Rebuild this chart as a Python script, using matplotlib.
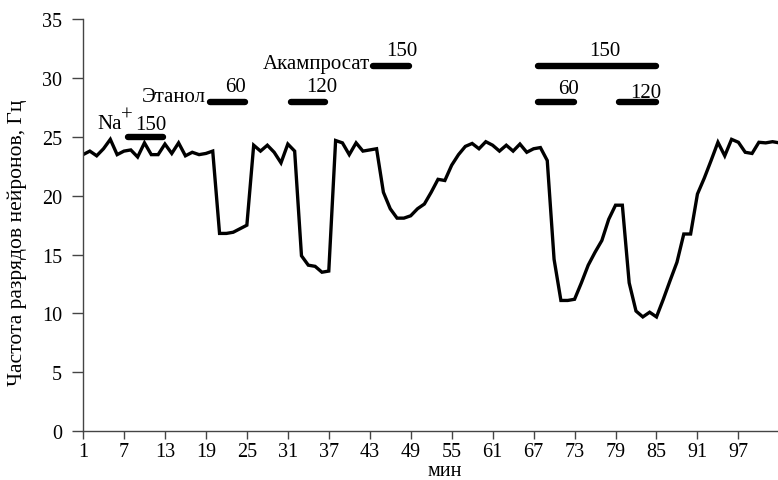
import matplotlib
matplotlib.use("Agg")
import matplotlib.pyplot as plt
import numpy as np

# Firing rate per minute
minutes = np.arange(1, 104)
rate = [
    23.5, 23.8, 23.4, 24.0, 24.8, 23.5, 23.8, 23.9, 23.3, 24.5,
    23.5, 23.5, 24.4, 23.6, 24.5, 23.4, 23.7, 23.5, 23.6, 23.8,
    16.8, 16.8, 16.9, 17.2, 17.5, 24.3, 23.8, 24.3, 23.7, 22.8,
    24.4, 23.8, 14.9, 14.1, 14.0, 13.5, 13.6, 24.7, 24.5, 23.5,
    24.5, 23.8, 23.9, 24.0, 20.3, 18.9, 18.1, 18.1, 18.3, 18.9,
    19.3, 20.3, 21.4, 21.3, 22.6, 23.5, 24.2, 24.45, 24.0, 24.6,
    24.3, 23.8, 24.3, 23.8, 24.4, 23.7, 24.0, 24.1, 23.0, 14.6,
    11.1, 11.1, 11.2, 12.6, 14.1, 15.2, 16.2, 18.0, 19.2, 19.2,
    12.6, 10.2, 9.7, 10.1, 9.7, 11.2, 12.8, 14.35, 16.75, 16.75,
    20.15, 21.5, 23.0, 24.55, 23.4, 24.8, 24.55, 23.7, 23.6, 24.55,
    24.5, 24.6, 24.5,
]

# Application bars: (start, end, level)
bar_start = [7.6, 19.6, 31.5, 43.5, 67.6, 67.6, 79.5]
bar_end = [12.7, 24.8, 36.4, 48.8, 85.0, 72.9, 85.0]
bar_level = [25.0, 28.0, 28.0, 31.0, 31.0, 28.0, 28.0]

# Annotations: (text, x, baseline y, ha)
labels = [
    ("Na", 3.05, 25.8, "left"),
    ("+", 6.6, 26.5, "left"),
    ("150", 11.0, 25.65, "center"),
    ("Этанол", 19.0, 28.05, "right"),
    ("60", 23.4, 28.9, "center"),
    ("120", 36.0, 28.9, "center"),
    ("Акампросат", 43.0, 30.9, "right"),
    ("150", 47.7, 32.0, "center"),
    ("150", 77.4, 32.0, "center"),
    ("60", 72.1, 28.7, "center"),
    ("120", 83.4, 28.4, "center"),
]

xticks = np.arange(1, 98, 6)
yticks = np.arange(0, 36, 5)

plt.rcParams["font.family"] = ["Liberation Serif", "DejaVu Serif"]

fig = plt.figure(figsize=(7.78, 4.81), dpi=100)
ax = fig.add_axes([0.1067, 0.1019, 0.8933, 0.8557])

ax.plot(minutes, rate, color="black", lw=2.4, solid_joinstyle="miter")

for s, e, lv in zip(bar_start, bar_end, bar_level):
    ax.plot([s, e], [lv, lv], color="black", lw=4.6, solid_capstyle="round")

for txt, x, y, ha in labels:
    ax.text(x, y, txt, ha=ha, va="baseline", fontsize=15)

ax.set_xlim(1, 102.8)
ax.set_ylim(0, 35)
ax.set_xticks(xticks)
ax.set_yticks(yticks)
ax.tick_params(axis="both", labelsize=14.5, color="#444444", width=1)
ax.tick_params(axis="x", direction="out", length=6, pad=2)
ax.tick_params(axis="y", direction="out", length=8, pad=7)
for side in ["top", "right"]:
    ax.spines[side].set_visible(False)
for side in ["left", "bottom"]:
    ax.spines[side].set_color("#444444")
    ax.spines[side].set_linewidth(1)

ax.set_xlabel("мин", fontsize=14.5, labelpad=0)
ax.xaxis.set_label_coords(0.52, -0.073)
ax.set_ylabel("Частота разрядов нейронов, Гц", fontsize=15.5)
ax.yaxis.set_label_coords(-0.081, 0.459)

fig.savefig("out.png", dpi=100)
